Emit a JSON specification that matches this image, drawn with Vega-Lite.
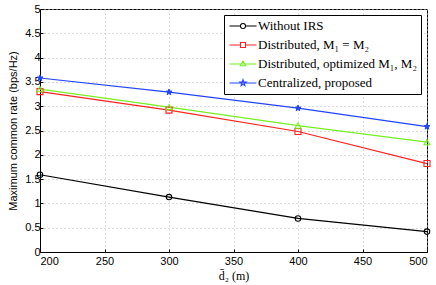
{
  "$schema": "https://vega.github.io/schema/vega-lite/v6.json",
  "width": 387,
  "height": 243,
  "autosize": "none",
  "padding": {"left": 40, "top": 9, "right": 9, "bottom": 33},
  "background": "white",
  "data": {"values": [
    {"d": 200, "rate": 1.59, "series": "Without IRS"},
    {"d": 300, "rate": 1.13, "series": "Without IRS"},
    {"d": 400, "rate": 0.69, "series": "Without IRS"},
    {"d": 500, "rate": 0.42, "series": "Without IRS"},
    {"d": 200, "rate": 3.30, "series": "Distributed, M₁ = M₂"},
    {"d": 300, "rate": 2.92, "series": "Distributed, M₁ = M₂"},
    {"d": 400, "rate": 2.48, "series": "Distributed, M₁ = M₂"},
    {"d": 500, "rate": 1.82, "series": "Distributed, M₁ = M₂"},
    {"d": 200, "rate": 3.35, "series": "Distributed, optimized M₁, M₂"},
    {"d": 300, "rate": 2.98, "series": "Distributed, optimized M₁, M₂"},
    {"d": 400, "rate": 2.60, "series": "Distributed, optimized M₁, M₂"},
    {"d": 500, "rate": 2.26, "series": "Distributed, optimized M₁, M₂"},
    {"d": 200, "rate": 3.58, "series": "Centralized, proposed"},
    {"d": 300, "rate": 3.29, "series": "Centralized, proposed"},
    {"d": 400, "rate": 2.96, "series": "Centralized, proposed"},
    {"d": 500, "rate": 2.58, "series": "Centralized, proposed"}
  ]},
  "encoding": {
    "x": {"field": "d", "type": "quantitative",
      "scale": {"domain": [200, 500], "nice": false},
      "axis": {"values": [200, 250, 300, 350, 400, 450, 500], "title": "d̄₂ (m)", "titleFont": "Liberation Serif", "titleFontSize": 12, "titlePadding": 4, "labelPadding": 6}},
    "y": {"field": "rate", "type": "quantitative",
      "scale": {"domain": [0, 5], "nice": false},
      "axis": {"values": [0, 0.5, 1, 1.5, 2, 2.5, 3, 3.5, 4, 4.5, 5], "format": "~g", "title": "Maximum common rate (bps/Hz)", "titleFont": "Liberation Sans", "titlePadding": 6}},
    "color": {"field": "series", "type": "nominal",
      "scale": {"domain": ["Without IRS", "Distributed, M₁ = M₂", "Distributed, optimized M₁, M₂", "Centralized, proposed"],
        "range": ["#000000", "#ff2222", "#77ee22", "#2244ff"]},
      "legend": {
        "title": null,
        "orient": "top-right",
        "offset": 6,
        "padding": 4,
        "strokeColor": "#000000",
        "fillColor": "#ffffff",
        "symbolSize": 144,
        "symbolStrokeWidth": 1.1,
        "symbolOffset": 8,
        "labelOffset": 8,
        "labelFont": "Liberation Serif",
        "labelFontSize": 13,
        "labelColor": "#000000",
        "rowPadding": 5,
        "labelLimit": 300,
        "symbolOpacity": 1,
        "encode": {"symbols": {"update": {"opacity": {"value": 1}, "strokeOpacity": {"value": 1}}}}
      }
    }
  },
  "layer": [
    {
      "mark": {"type": "line", "strokeWidth": 1.2}
    },
    {
      "transform": [{"filter": "datum.series === 'Without IRS'"}],
      "mark": {"type": "point", "shape": "circle", "filled": false, "size": 30, "strokeWidth": 1.1, "opacity": 1}
    },
    {
      "transform": [{"filter": "datum.series === 'Distributed, M₁ = M₂'"}],
      "mark": {"type": "point", "shape": "square", "filled": false, "size": 36, "strokeWidth": 1.1, "opacity": 1}
    },
    {
      "transform": [{"filter": "datum.series === 'Distributed, optimized M₁, M₂'"}],
      "mark": {"type": "point", "shape": "triangle-up", "filled": false, "size": 36, "strokeWidth": 1.1, "opacity": 1}
    },
    {
      "transform": [{"filter": "datum.series === 'Centralized, proposed'"}],
      "mark": {"type": "point", "shape": "M0,-1L0.235,-0.324L0.951,-0.309L0.38,0.124L0.588,0.809L0,0.4L-0.588,0.809L-0.38,0.124L-0.951,-0.309L-0.235,-0.324Z", "filled": false, "fill": "#2244ff", "size": 40, "strokeWidth": 1, "opacity": 1}
    },
    {
      "mark": {"type": "point", "filled": false, "opacity": 0, "size": 1},
      "encoding": {
        "shape": {"field": "series", "type": "nominal",
          "scale": {"domain": ["Without IRS", "Distributed, M₁ = M₂", "Distributed, optimized M₁, M₂", "Centralized, proposed"],
            "range": [
              "M-2.25,0H-0.42M0.42,0H2.25M-0.42,0A0.42,0.42 0 1,0 0.42,0A0.42,0.42 0 1,0 -0.42,0",
              "M-2.25,0H-0.42M0.42,0H2.25M-0.42,-0.42H0.42V0.42H-0.42Z",
              "M-2.25,0H2.25M0,-0.5L0.45,0.3H-0.45Z",
              "M-2.25,0H2.25M0,-0.55L0.13,-0.18L0.52,-0.17L0.21,0.07L0.32,0.44L0,0.22L-0.32,0.44L-0.21,0.07L-0.52,-0.17L-0.13,-0.18Z"
            ]},
          "legend": {
            "title": null,
            "orient": "top-right",
            "offset": 6,
            "padding": 4,
            "strokeColor": "#000000",
            "fillColor": "#ffffff",
            "symbolSize": 144,
            "symbolStrokeWidth": 1.1,
            "symbolOffset": 8,
            "labelOffset": 8,
            "labelFont": "Liberation Serif",
            "labelFontSize": 13,
            "labelColor": "#000000",
            "rowPadding": 5,
            "labelLimit": 300,
            "symbolOpacity": 1,
            "encode": {"symbols": {"update": {"opacity": {"value": 1}, "strokeOpacity": {"value": 1}}}}
          }
        }
      }
    }
  ],
  "config": {
    "view": {"stroke": "#000000", "strokeWidth": 1},
    "axis": {
      "labelFont": "Liberation Sans",
      "labelFontSize": 11,
      "labelColor": "#000000",
      "titleColor": "#000000",
      "titleFontWeight": "normal",
      "titleFontSize": 11,
      "domainColor": "#000000",
      "tickColor": "#000000",
      "tickSize": -3,
      "gridColor": "#bbbbbb",
      "gridDash": [1, 3],
      "labelPadding": 3
    }
  }
}
